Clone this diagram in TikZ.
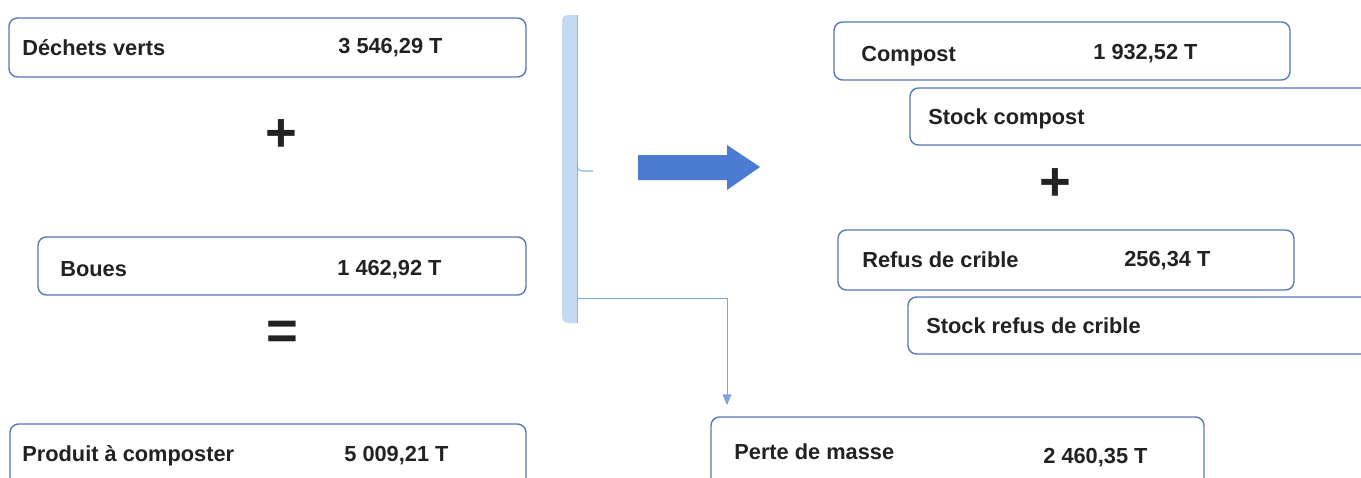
\documentclass[tikz,border=0pt]{standalone}
\usepackage{fontspec}
\setmainfont{Liberation Sans}
\usetikzlibrary{fit,arrows.meta}
\definecolor{boxblue}{HTML}{5677BC}
\definecolor{arrowblue}{HTML}{4C7CD2}
\definecolor{barfill}{HTML}{C3DAF2}
\definecolor{baredge}{HTML}{8FB2DD}
\definecolor{linkblue}{HTML}{7FA5D8}
\definecolor{txt}{HTML}{222222}
\begin{document}
\begin{tikzpicture}[x=0.02cm,y=-0.02cm,
  box/.style={draw=boxblue, line width=0.8pt, rounded corners=0.17cm, inner sep=0pt},
  lbl/.style={anchor=base west, inner sep=0pt, text=txt, font=\fontsize{12.4}{14}\selectfont\bfseries},
  sym/.style={inner sep=0pt, text=txt, font=\fontsize{31}{33}\selectfont\bfseries}]
\useasboundingbox (0,0) rectangle (1361,477);
\clip (0,0) rectangle (1361,477);
% left boxes
\node[box, fit={(9,18) (526,77)}] (dv) {};
\node[lbl] (dvt) at (22,55) {Déchets verts};
\node[lbl] (dvv) at (338,53) {3 546,29 T};
\node[sym] (plus1) at (281.5,136) {+};
\node[box, fit={(38,237) (526,295)}] (bo) {};
\node[lbl] (bot) at (60,276) {Boues};
\node[lbl] (bov) at (337,275) {1 462,92 T};
\node[sym] (eq) at (282,335) {=};
\node[box, fit={(10,424) (526,490)}] (pc) {};
\node[lbl] (pct) at (22,461) {Produit à composter};
\node[lbl] (pcv) at (344,461) {5 009,21 T};
% bracket
\fill[barfill] (562,20) to[out=90,in=180] (568,15) -- (577,15) -- (577,323) -- (568,323) to[out=180,in=-90] (562,318) -- cycle;
\draw[baredge, line width=0.5pt] (577,15) -- (577,323);
\draw[baredge, line width=0.6pt] (577,166) to[out=-90,in=180] (582,171) -- (593,171);
\coordinate (br) at (577,298);
% big arrow
\fill[arrowblue] (638,155) -- (727,155) -- (727,145) -- (760,167) -- (727,190) -- (727,180) -- (638,180) -- cycle;
% right boxes
\node[box, fit={(834,22) (1290,80)}] (co) {};
\node[lbl] (cot) at (861,61) {Compost};
\node[lbl] (cov) at (1093,59) {1 932,52 T};
\node[box, fit={(910,88) (1400,145)}] (sc) {};
\node[lbl] (sct) at (928,124) {Stock compost};
\node[sym] (plus2) at (1055,185) {+};
\node[box, fit={(838,230) (1294,290)}] (rc) {};
\node[lbl] (rct) at (862,267) {Refus de crible};
\node[lbl] (rcv) at (1124,266) {256,34 T};
\node[box, fit={(908,297) (1400,354)}] (src) {};
\node[lbl] (srct) at (926,333) {Stock refus de crible};
\node[box, fit={(711,417) (1204,490)}] (pm) {};
\node[lbl] (pmt) at (734,459) {Perte de masse};
\node[lbl] (pmv) at (1043,463) {2 460,35 T};
% connector
\coordinate (ptop) at (727,405);
\draw[linkblue, line width=0.5pt, -{Triangle[length=6pt,width=5pt]}] (br) -| (ptop);
\end{tikzpicture}
\end{document}
